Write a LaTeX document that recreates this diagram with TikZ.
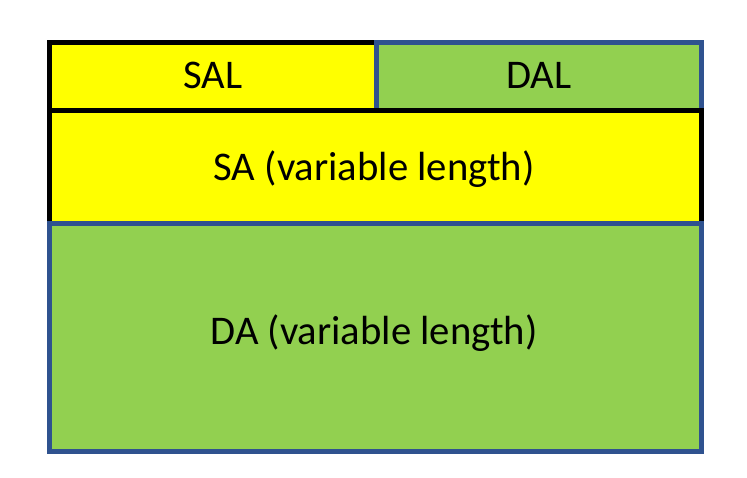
\documentclass[tikz,border=0pt]{standalone}
\usepackage{fontspec}
\setmainfont{Carlito}
\definecolor{fieldyellow}{HTML}{FFFF00}
\definecolor{fieldgreen}{HTML}{92D050}
\definecolor{fieldblue}{HTML}{2F528F}
\begin{document}
\begin{tikzpicture}[x=1pt,y=-1pt,
  field/.style={rectangle, draw, line width=5pt, inner sep=0pt, outer sep=0pt},
  srcfield/.style={field, draw=black, fill=fieldyellow},
  dstfield/.style={field, draw=fieldblue, fill=fieldgreen},
  fieldtext/.style={anchor=base, inner sep=0pt, font=\fontsize{40.7}{48}\selectfont}]
\useasboundingbox (0,0) rectangle (747,477);
% header row: address lengths
\node[srcfield, minimum width=326.3pt, minimum height=68pt] (sal) at (212.85,76.5) {};
\node[dstfield, minimum width=325.5pt, minimum height=68pt] (dal) at (538.75,76.5) {};
% source address
\node[srcfield, minimum width=651.8pt, minimum height=113pt] (sa) at (375.6,167) {};
% destination address
\node[dstfield, minimum width=651.8pt, minimum height=227.5pt] (da) at (375.6,337.25) {};
% field names
\node[fieldtext] (saltext) at (213,88) {SAL};
\node[fieldtext] (daltext) at (539,88) {DAL};
\node[fieldtext] (satext) at (374,180) {SA (variable length)};
\node[fieldtext] (datext) at (374,344) {DA (variable length)};
\end{tikzpicture}
\end{document}
